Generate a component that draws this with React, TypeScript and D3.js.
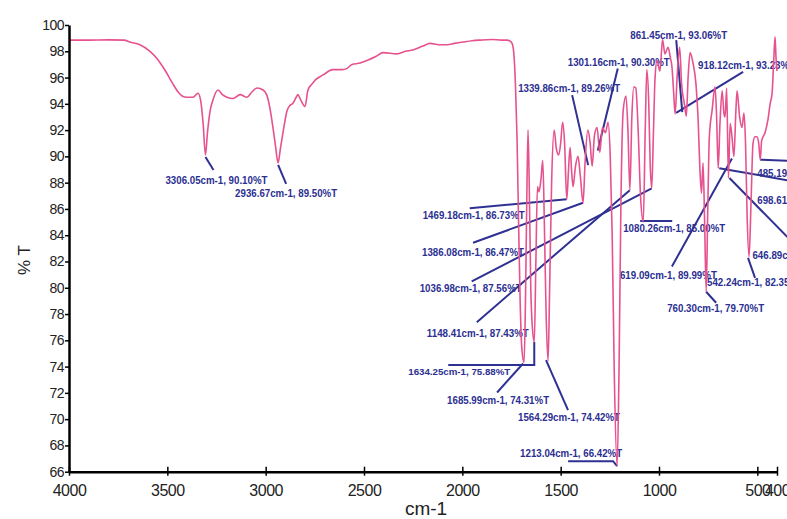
import React, { useRef, useEffect } from "react";
import * as d3 from "d3";

// FTIR spectrum
const wavenumbers = [
  4000, 3900, 3800, 3720, 3690, 3640, 3588, 3550, 3522, 3490, 3471, 3445, 3425, 3400, 3369, 3344, 3330, 3318,
  3306, 3296, 3282, 3268, 3242, 3220, 3197, 3166, 3130, 3095, 3070, 3044, 3013, 2995, 2980, 2963, 2950, 2937,
  2925, 2912, 2891, 2875, 2861, 2845, 2836, 2825, 2815, 2800, 2785, 2765, 2749, 2708, 2658, 2610, 2586, 2561,
  2520, 2485, 2440, 2403, 2332, 2290, 2251, 2200, 2164, 2120, 2078, 2040, 1997, 1950, 1910, 1850, 1800, 1773,
  1760, 1747, 1738, 1730, 1722, 1714, 1706, 1698, 1686, 1679, 1672, 1666, 1660, 1652, 1644, 1634, 1626, 1618,
  1610, 1600, 1591, 1583, 1574, 1564, 1556, 1546, 1533, 1522, 1510, 1500, 1490, 1480, 1469, 1460, 1452, 1444,
  1437, 1425, 1412, 1400, 1386, 1376, 1362, 1350, 1340, 1328, 1315, 1301, 1288, 1272, 1259, 1248, 1238, 1228,
  1213, 1203, 1194, 1182, 1168, 1158, 1148, 1138, 1128, 1118, 1106, 1094, 1080, 1070, 1062, 1052, 1045, 1037,
  1028, 1020, 1010, 995, 982, 970, 954, 942, 934, 926, 918, 908, 895, 885, 871, 861, 852, 842, 827, 812, 801,
  792, 784, 776, 768, 760, 752, 744, 730, 715, 707, 699, 690, 679, 670, 664, 656, 647, 638, 629, 619, 609, 603,
  590, 578, 568, 560, 552, 542, 532, 522, 512, 502, 493, 485, 478, 461, 446, 435, 425, 416, 410, 405, 400,
];
const transmittance = [
  98.85, 98.85, 98.87, 98.85, 98.7, 98.5, 98.0, 97.4, 96.8, 96.0, 95.5, 94.9, 94.6, 94.5, 94.5, 94.8, 94.2, 92.5,
  90.1, 91.8, 93.5, 94.3, 95.05, 94.7, 94.5, 94.4, 94.7, 94.5, 94.9, 95.2, 95.05, 94.7, 93.8, 92.2, 90.8, 89.5,
  90.6, 91.8, 93.5, 93.9, 94.05, 94.5, 94.7, 94.4, 94.1, 93.8, 95.05, 95.5, 95.8, 96.2, 96.6, 96.6, 96.7, 97.0,
  97.1, 97.3, 97.6, 97.9, 97.8, 98.0, 98.1, 98.4, 98.6, 98.5, 98.5, 98.6, 98.7, 98.8, 98.85, 98.9, 98.85, 98.85,
  98.8, 98.6, 97.8, 95.5, 91.5, 85, 79, 75.5, 74.31, 79, 87, 92.0, 88, 80, 77, 75.88, 82, 87.7,
  87.3, 88.3, 89.7, 85, 78, 74.42, 80, 88, 92.0, 90.6, 90.1, 91.0, 92.6, 91.0, 86.73, 89.0, 90.7, 88.8,
  87.7, 89.2, 90.0, 88.5, 86.47, 89.5, 92.0, 91.0, 89.26, 91.6, 92.2, 90.3, 92.2, 91.8, 92.6, 90, 84, 74,
  66.42, 74, 86, 93.5, 94.6, 92.0, 87.43, 93.0, 95.3, 95.2, 92.0, 87.0, 85.0, 92.0, 96.6, 94.0, 89.5, 87.56,
  92.0, 96.0, 97.3, 96.5, 98.9, 97.8, 98.3, 97.5, 96.8, 95.0, 93.23, 96.0, 98.3, 95.5, 94.0, 93.06, 96.0, 97.9, 97.1, 95.5, 92.8,
  89.0, 87.2, 89.5, 85, 79.7, 86, 91.5, 93.5, 95.3, 93.0, 89.1, 92.5, 95.0, 93.3, 93.0, 95.2, 88.35, 92.5, 91.5, 89.99, 93.5, 95.0,
  93.0, 92.2, 93.3, 91.0, 85.5, 82.35, 86.5, 91.0, 91.5, 91.5, 91.0, 89.75, 91.2, 91.8, 92.8, 94.0, 94.8, 97.5, 99.1, 97.5, 96.5,
];

const xTicks = [4000, 3500, 3000, 2500, 2000, 1500, 1000, 500, 400];
const yTicks = [66, 68, 70, 72, 74, 76, 78, 80, 82, 84, 86, 88, 90, 92, 94, 96, 98, 100];

// labelled peaks
const peakWn = [
  3306.05, 2936.67, 1301.16, 1339.86, 861.45, 918.12, 1469.18, 1386.08, 1036.98, 1148.41, 1634.25,
  1685.99, 1564.29, 1213.04, 1080.26, 619.09, 542.24, 760.3, 485.19, 698.61, 646.89,
];
const peakT = [
  90.1, 89.5, 90.3, 89.26, 93.06, 93.23, 86.73, 86.47, 87.56, 87.43, 75.88,
  74.31, 74.42, 66.42, 85.0, 89.99, 82.35, 79.7, 89.75, 89.1, 88.35,
];

// where each label sits, in px relative to its peak, and the leader line points
const labelLayout = [
  { dx: -40, dy: 29, leader: [[0, 2], [8, 15]] },
  { dx: -43, dy: 34, leader: [[0, 2], [8, 21]] },
  { dx: -32, dy: -86, leader: [[-2, -2], [18, -84]] },
  { dx: -74, dy: -74, leader: [[-4, -1], [-20, -71]] },
  { dx: -56, dy: -77, leader: [[-4, -4], [-10, -76]] },
  { dx: 23, dy: -45, leader: [[1, -1], [68, -42]] },
  { dx: -144, dy: 20, leader: [[0, 0], [-97, 9]] },
  { dx: -161, dy: 53, leader: [[0, 0], [-110, 40]] },
  { dx: -232, dy: 104, leader: [[0, 0], [-180, 93]] },
  { dx: -203, dy: 147, leader: [[0, 0], [-153, 132]] },
  { dx: -126, dy: 33, leader: [[0, 0], [0, 23], [-86, 23]], small: true },
  { dx: -77, dy: 41, leader: [[-1, 1], [-27, 30]] },
  { dx: -30, dy: 60, leader: [[-2, -1], [20, 49]] },
  { dx: -97, dy: -9, leader: [[0, 0], [-4, -5], [-49, -5]] },
  { dx: -20, dy: 10, leader: [[-3, -1], [29, -1]] },
  { dx: -114, dy: 122, leader: [[-2, 2], [-62, 110]] },
  { dx: -42, dy: 29, leader: [[-1, 1], [6, 21]] },
  { dx: -39, dy: 20, leader: [[0, 0], [10, 11]] },
  { dx: -3, dy: 17, leader: [[0, 0], [27, 1]] },
  { dx: 39, dy: 36, leader: [[1, 0], [69, 12]] },
  { dx: 24, dy: 81, leader: [[1, 0], [59, 59]] },
];

const W = 787;
const H = 519;
const NARROW = "'Liberation Sans Narrow', 'Liberation Sans', Arial, sans-serif";

const Spectrum = () => {
  const svgRef = useRef(null);

  useEffect(() => {
    const svg = d3.select(svgRef.current);
    svg.selectAll("*").remove();

    const x = d3.scaleLinear().domain([4000, 400]).range([69, 777]);
    const y = d3.scaleLinear().domain([66, 100]).range([471.7, 25]);

    const points = wavenumbers.map((w, i) => ({ w, t: transmittance[i] }));

    const line = d3
      .line()
      .x((d) => x(d.w))
      .y((d) => y(d.t))
      .curve(d3.curveMonotoneX);

    // leaders + labels first, spectrum on top
    const ann = svg.append("g");
    peakWn.forEach((w, i) => {
      const px = x(w);
      const py = y(peakT[i]);
      const lay = labelLayout[i];
      ann
        .append("path")
        .attr("d", d3.line()(lay.leader.map(([a, b]) => [px + a, py + b])))
        .attr("fill", "none")
        .attr("stroke", "#2e3192")
        .attr("stroke-width", 2);
      ann
        .append("text")
        .attr("x", px + lay.dx)
        .attr("y", py + lay.dy)
        .attr("fill", "#2b2f91")
        .attr("font-family", NARROW)
        .attr("font-weight", "bold")
        .attr("font-size", lay.small ? 9 : 11)
        .attr("textLength", w >= 1000 ? 102 : 97)
        .attr("lengthAdjust", "spacingAndGlyphs")
        .text(`${w.toFixed(2)}cm-1, ${peakT[i].toFixed(2)}%T`);
    });

    svg
      .append("path")
      .datum(points)
      .attr("fill", "none")
      .attr("stroke", "#e6528e")
      .attr("stroke-width", 1.6)
      .attr("stroke-linejoin", "round")
      .attr("d", line);

    // y axis
    const gy = svg
      .append("g")
      .attr("transform", "translate(69,0)")
      .call(d3.axisLeft(y).tickValues(yTicks).tickSize(4).tickSizeOuter(0).tickPadding(1));
    gy.select(".domain").attr("stroke-width", 2.5);
    gy.selectAll(".tick line").attr("stroke-width", 1.5);
    gy.selectAll("text")
      .attr("font-family", NARROW)
      .attr("font-size", 14)
      .attr("letter-spacing", -0.5)
      .attr("fill", "#222");

    // x axis
    const gx = svg
      .append("g")
      .attr("transform", "translate(0,471.7)")
      .call(
        d3
          .axisBottom(x)
          .tickValues(xTicks)
          .tickFormat(d3.format("d"))
          .tickSize(4)
          .tickSizeOuter(0)
          .tickPadding(9)
      );
    gx.select(".domain").attr("stroke-width", 2.5);
    gx.selectAll(".tick line").attr("y1", -5).attr("stroke-width", 1.5);
    gx.selectAll("text")
      .attr("font-family", NARROW)
      .attr("font-size", 16)
      .attr("letter-spacing", -0.5)
      .attr("fill", "#222");

    svg
      .append("text")
      .attr("x", 426)
      .attr("y", 515)
      .attr("text-anchor", "middle")
      .attr("font-family", "'Liberation Sans', Arial, sans-serif")
      .attr("font-size", 19)
      .attr("fill", "#222")
      .text("cm-1");

    svg
      .append("text")
      .attr("transform", "translate(30,260) rotate(-90)")
      .attr("text-anchor", "middle")
      .attr("font-family", "'Liberation Sans', Arial, sans-serif")
      .attr("font-size", 17)
      .attr("fill", "#222")
      .text("% T");
  }, []);

  return <svg ref={svgRef} width={W} height={H} style={{ display: "block", overflow: "hidden" }}></svg>;
};

export default function App() {
  return (
    <div style={{ position: "absolute", left: 0, top: 0, width: W, height: H, overflow: "hidden", background: "#fff" }}>
      <Spectrum />
    </div>
  );
}
